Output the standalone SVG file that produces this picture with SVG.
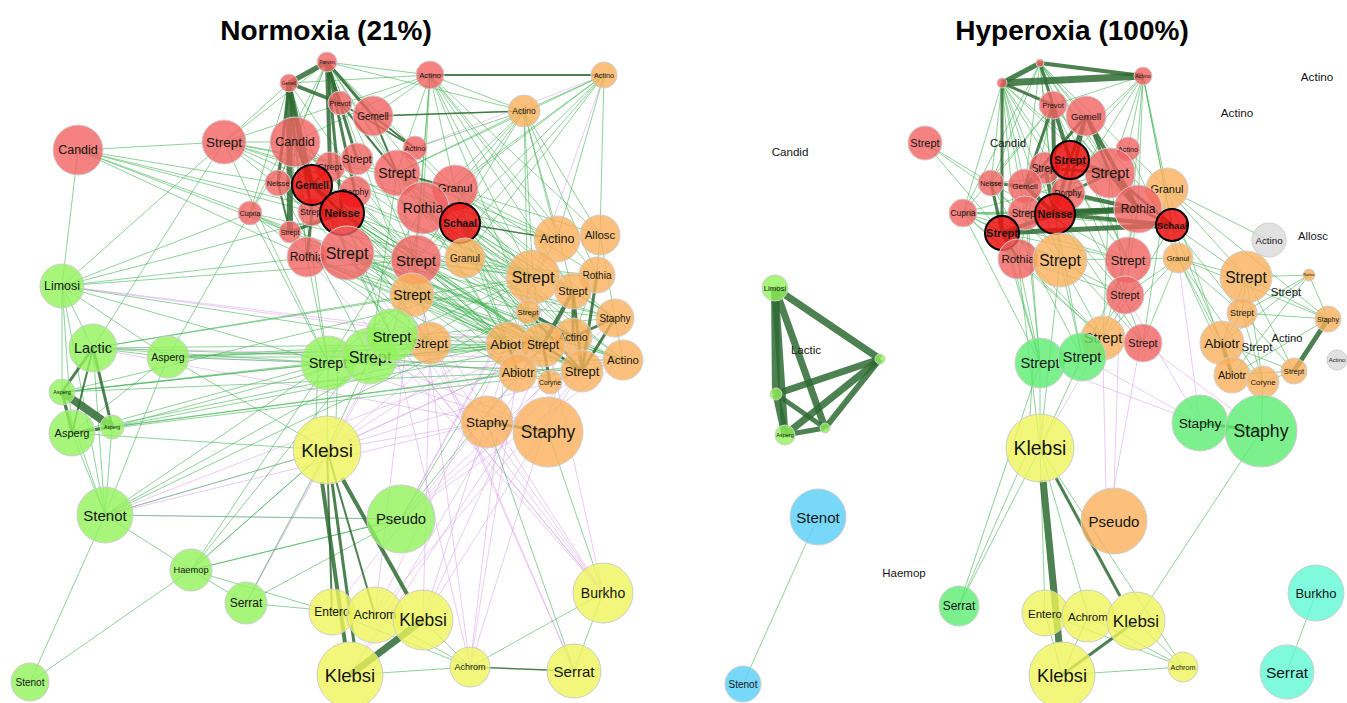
<svg xmlns="http://www.w3.org/2000/svg" width="1347" height="703" viewBox="0 0 1347 703">
<style>
.e{stroke:#46b456;stroke-opacity:.6;stroke-width:1;fill:none}
.p{stroke:#d9a2ea;stroke-opacity:.55;stroke-width:1;fill:none}
.t{stroke:#2e6b33;stroke-opacity:.85;fill:none}
circle{stroke:#cdcdcd;stroke-width:1}
.rd{fill:#F26262;fill-opacity:.8}
.rb{fill:#EE1010;fill-opacity:.85;stroke:#000;stroke-width:2}
.or{fill:#FBB05B;fill-opacity:.8}
.lg{fill:#92F25B;fill-opacity:.8}
.ye{fill:#EFF55B;fill-opacity:.8}
.gr{fill:#5DEC72;fill-opacity:.8}
.bl{fill:#60D1F9;fill-opacity:.85}
.tl{fill:#60F9D3;fill-opacity:.8}
.gy{fill:#D9D9D9;fill-opacity:.8}
text{font-family:"Liberation Sans",Arial,sans-serif;text-anchor:middle;dominant-baseline:central;fill:#151515}
.b{font-weight:bold}
.ti{font-size:28px;font-weight:bold;fill:#000;dominant-baseline:auto}
</style>
<rect width="1347" height="703" fill="#fff"/>
<text class="ti" x="326" y="40">Normoxia (21%)</text>
<text class="ti" x="1072" y="40">Hyperoxia (100%)</text>

<g id="connectors">
<path class="p" d="M327 450L533 277M327 450L573 337M327 450L615 318M327 450L597 275M327 450L623 360M401 519L533 277M401 519L582 371M401 519L615 318M401 519L623 360M401 519L557 239M105 515L327 450M105 515L487 422M105 515L401 519M62 286L543 345M62 286L623 360M168 357L582 371M246 603L412 295M603 593L412 295M603 593L347 253M603 593L430 343M603 593L392 337M603 593L307 257M470 667L533 277M470 667L573 337M470 667L508 344M470 667L416 260M423 620L533 277M423 620L615 318M423 620L430 343M332 612L543 345M375 615L582 371M375 615L508 344M93 348L623 360M93 348L487 422M604 75L415 148M604 75L533 277M574 671L430 343M574 671L412 295M327 450L487 422M370 357L548 432M328 363L548 432M392 337L603 593M350 675L543 345M350 675L573 337M105 515L543 345M246 603L392 337M470 667L392 337M423 620L573 291M375 615L412 295M603 593L533 277"/>
<path class="e" d="M78 150L224 142M78 150L62 286M78 150L250 213M78 150L278 183M78 150L312 212M78 150L290 232M78 150L342 213M78 150L307 257M224 142L62 286M224 142L93 348M224 142L295 142M224 142L327 62M224 142L289 83M224 142L397 173M224 142L423 208M224 142L455 188M224 142L533 277M224 142L557 239M224 142L412 295M224 142L328 363M224 142L416 260M224 142L430 75M62 286L250 213M62 286L342 213M62 286L347 253M62 286L416 260M62 286L168 357M62 286L93 348M62 286L62 392M62 286L72 433M62 286L105 515M62 286L328 363M62 286L430 343M93 348L168 357M93 348L328 363M93 348L370 357M93 348L533 277M93 348L508 344M93 348L105 515M93 348L412 295M168 357L328 363M168 357L370 357M168 357L430 343M168 357L508 344M168 357L543 345M168 357L72 433M168 357L105 515M168 357L250 213M168 357L327 450M62 392L533 277M62 392L573 337M62 392L328 363M62 392L370 357M62 392L518 373M62 392L105 515M72 433L105 515M72 433L582 371M72 433L328 363M72 433L508 344M72 433L327 450M112 427L105 515M112 427L543 345M112 427L518 373M112 427L623 360M112 427L370 357M105 515L191 570M105 515L30 682M105 515L327 450M105 515L328 363M105 515L533 277M105 515L528 312M191 570L246 603M191 570L30 682M191 570L328 363M191 570L412 295M191 570L327 450M191 570L401 519M191 570L332 612M246 603L327 450M246 603L401 519M246 603L375 615"/>
<path class="e" d="M327 62L430 75M327 62L295 142M327 62L397 173M327 62L423 208M327 62L455 188M327 62L460 223M327 62L416 260M327 62L412 295M327 62L524 111M327 62L533 277M327 62L250 213M327 62L278 183M289 83L430 75M289 83L295 142M289 83L278 183M289 83L250 213M289 83L347 253M289 83L307 257M289 83L416 260M430 75L524 111M430 75L373 116M430 75L397 173M430 75L295 142M430 75L423 208M430 75L455 188M430 75L416 260M430 75L557 239M430 75L533 277M430 75L412 295M430 75L528 312M430 75L600 235M430 75L573 291M430 75L597 275M604 75L524 111M604 75L397 173M604 75L455 188M604 75L423 208M604 75L416 260M604 75L600 235M604 75L557 239M604 75L465 258M604 75L412 295M524 111L373 116M524 111L397 173M524 111L423 208M524 111L455 188M524 111L416 260M524 111L412 295M524 111L557 239M524 111L533 277M524 111L600 235M524 111L573 291M524 111L528 312M524 111L597 275M524 111L415 148M295 142L278 183M295 142L250 213M295 142L290 232M295 142L307 257M295 142L347 253M295 142L416 260M295 142L412 295M295 142L328 363M295 142L392 337M295 142L533 277M295 142L508 344M295 142L465 258"/>
<path class="e" d="M397 173L533 277M397 173L557 239M397 173L430 343M397 173L508 344M397 173L543 345M397 173L370 357M397 173L615 318M397 173L623 360M397 173L582 371M423 208L533 277M423 208L508 344M423 208L543 345M423 208L573 337M423 208L582 371M423 208L623 360M423 208L392 337M423 208L328 363M423 208L528 312M455 188L533 277M455 188L557 239M455 188L600 235M455 188L597 275M455 188L573 291M455 188L615 318M455 188L573 337M455 188L518 373M460 223L533 277M460 223L573 291M460 223L573 337M460 223L615 318M460 223L582 371M460 223L508 344M460 223L543 345M460 223L550 382M342 213L533 277M342 213L543 345M342 213L508 344M342 213L518 373M342 213L573 337M342 213L392 337M342 213L430 343M342 213L582 371M342 213L550 382M312 185L533 277M312 185L508 344M312 185L543 345M312 185L582 371M312 185L392 337M312 185L430 343M312 185L573 337M250 213L533 277M250 213L508 344M250 213L328 363M250 213L430 343M250 213L543 345M250 213L623 360M278 183L430 343M278 183L508 344M278 183L543 345M278 183L370 357"/>
<path class="e" d="M347 253L533 277M347 253L543 345M347 253L573 337M347 253L508 344M347 253L518 373M347 253L582 371M347 253L623 360M347 253L615 318M347 253L597 275M416 260L533 277M416 260L508 344M416 260L543 345M416 260L573 337M416 260L582 371M416 260L550 382M416 260L615 318M307 257L543 345M307 257L508 344M307 257L328 363M307 257L518 373M307 257L623 360M307 257L582 371M412 295L543 345M412 295L508 344M412 295L582 371M412 295L623 360M412 295L615 318M412 295L328 363M328 363L543 345M328 363L508 344M328 363L582 371M328 363L623 360M328 363L327 450M318 364L316 420M338 364L336 420M370 357L543 345M370 357L518 373M370 357L327 450M392 337L533 277M392 337L573 337M392 337L508 344M392 337L615 318M533 277L573 291M533 277L597 275M557 239L533 277M600 235L597 275M600 235L615 318M573 291L573 337M573 291L615 318M528 312L543 345M508 344L543 345M573 337L582 371M573 337L623 360M615 318L623 360M582 371L550 382M518 373L550 382M582 371L623 360M533 277L543 345M597 275L573 337M487 422L574 671M548 432L603 593M603 593L470 667M603 593L574 671M470 667L350 675M470 667L332 612M470 667L375 615M470 667L423 620M401 519L105 515M401 519L191 570M401 519L508 344M401 519L543 345M327 450L191 570"/>
<line class="t" x1="327" y1="62" x2="289" y2="83" stroke-width="5"/>
<line class="t" x1="289" y1="83" x2="340" y2="103" stroke-width="4"/>
<line class="t" x1="327" y1="62" x2="340" y2="103" stroke-width="3"/>
<line class="t" x1="327" y1="62" x2="357" y2="159" stroke-width="3"/>
<line class="t" x1="327" y1="62" x2="373" y2="116" stroke-width="3"/>
<line class="t" x1="289" y1="83" x2="290" y2="232" stroke-width="6"/>
<line class="t" x1="289" y1="83" x2="312" y2="185" stroke-width="4"/>
<line class="t" x1="327" y1="62" x2="342" y2="213" stroke-width="3"/>
<line class="t" x1="327" y1="62" x2="330" y2="167" stroke-width="4"/>
<line class="t" x1="289" y1="83" x2="295" y2="142" stroke-width="3"/>
<line class="t" x1="340" y1="103" x2="415" y2="148" stroke-width="2"/>
<line class="t" x1="373" y1="116" x2="415" y2="148" stroke-width="2"/>
<line class="t" x1="289" y1="83" x2="312" y2="212" stroke-width="3"/>
<line class="t" x1="327" y1="62" x2="355" y2="192" stroke-width="3"/>
<line class="t" x1="373" y1="116" x2="524" y2="111" stroke-width="1.5"/>
<line class="t" x1="397" y1="173" x2="455" y2="188" stroke-width="2"/>
<line class="t" x1="430" y1="75" x2="604" y2="75" stroke-width="2"/>
<line class="t" x1="460" y1="223" x2="557" y2="239" stroke-width="1.5"/>
<line class="t" x1="373" y1="116" x2="397" y2="173" stroke-width="2"/>
<line class="t" x1="340" y1="103" x2="397" y2="173" stroke-width="2"/>
<line class="t" x1="312" y1="185" x2="342" y2="213" stroke-width="3"/>
<line class="t" x1="330" y1="167" x2="312" y2="185" stroke-width="3"/>
<line class="t" x1="295" y1="142" x2="312" y2="185" stroke-width="3"/>
<line class="t" x1="289" y1="83" x2="278" y2="183" stroke-width="3"/>
<line class="t" x1="290" y1="232" x2="342" y2="213" stroke-width="3"/>
<line class="t" x1="312" y1="212" x2="307" y2="257" stroke-width="3"/>
<line class="t" x1="278" y1="183" x2="290" y2="232" stroke-width="2"/>
<line class="t" x1="573" y1="291" x2="543" y2="345" stroke-width="4"/>
<line class="t" x1="573" y1="291" x2="582" y2="371" stroke-width="3"/>
<line class="t" x1="573" y1="337" x2="615" y2="318" stroke-width="3"/>
<line class="t" x1="528" y1="312" x2="573" y2="337" stroke-width="3"/>
<line class="t" x1="597" y1="275" x2="582" y2="371" stroke-width="3"/>
<line class="t" x1="615" y1="318" x2="582" y2="371" stroke-width="3"/>
<line class="t" x1="543" y1="345" x2="550" y2="382" stroke-width="3"/>
<line class="t" x1="508" y1="344" x2="518" y2="373" stroke-width="3"/>
<line class="t" x1="573" y1="291" x2="573" y2="337" stroke-width="3"/>
<line class="t" x1="528" y1="312" x2="582" y2="371" stroke-width="2"/>
<line class="t" x1="508" y1="344" x2="543" y2="345" stroke-width="3"/>
<line class="t" x1="543" y1="345" x2="582" y2="371" stroke-width="3"/>
<line class="t" x1="62" y1="392" x2="112" y2="427" stroke-width="8"/>
<line class="t" x1="93" y1="348" x2="62" y2="392" stroke-width="3"/>
<line class="t" x1="93" y1="348" x2="112" y2="427" stroke-width="3"/>
<line class="t" x1="93" y1="348" x2="72" y2="433" stroke-width="2"/>
<line class="t" x1="62" y1="392" x2="72" y2="433" stroke-width="3"/>
<line class="t" x1="72" y1="433" x2="112" y2="427" stroke-width="3"/>
<line class="t" x1="322" y1="482" x2="345" y2="643" stroke-width="4"/>
<line class="t" x1="332" y1="482" x2="354" y2="643" stroke-width="3"/>
<line class="t" x1="327" y1="450" x2="332" y2="612" stroke-width="2"/>
<line class="t" x1="327" y1="450" x2="375" y2="615" stroke-width="2"/>
<line class="t" x1="342" y1="478" x2="407" y2="594" stroke-width="4"/>
<line class="t" x1="423" y1="620" x2="350" y2="675" stroke-width="7"/>
<line class="t" x1="470" y1="667" x2="574" y2="671" stroke-width="1.5"/>
<line class="t" x1="487" y1="422" x2="548" y2="432" stroke-width="3"/>

<path class="p" d="M1082 357L1200 423M1143 343L1261 431M1114 488L1120 300M1114 488L1140 345M1106 490L1103 360M1040 448L1103 338M1178 258L1200 423M1125 295L1200 423M1040 363L1200 423"/>
<path class="e" d="M1002 83L991 183M1002 83L963 213M1002 83L1025 186M1002 83L1025 213M1002 83L1018 259M1002 83L1055 214M1002 83L1110 173M1002 83L1060 260M1002 83L1138 209M1002 83L1128 260M1002 83L1068 193M1040 63L1086 116M1040 63L1110 173M1040 63L1138 209M1040 63L1167 189M1040 63L1172 225M1040 63L1128 260M1040 63L1055 214M1040 63L991 183M1040 63L963 213M1040 63L1025 186M1040 63L1060 260M1143 76L1167 189M1143 76L1172 225M1143 76L1138 209M1143 76L1110 173M1143 76L1178 258M1143 76L1128 260M1143 76L1128 149M1143 76L1053 105M1143 76L1055 214M1143 76L1025 186M1143 76L1002 233M1053 105L1110 173M1053 105L1138 209M1053 105L1128 260M1053 105L1018 259M1053 105L991 183M1053 105L963 213M925 143L991 183M925 143L1002 233M925 143L1025 213"/>
<path class="e" d="M963 213L1055 214M963 213L1025 213M963 213L1110 173M963 213L1138 209M963 213L1172 225M963 213L1060 260M963 213L1128 260M963 213L1125 295M963 213L1040 363M963 213L1103 338M991 183L1110 173M991 183L1138 209M991 183L1060 260M991 183L1128 260M991 183L1040 363M991 183L1082 357M1018 259L1040 363M1002 233L1040 363M1025 213L1040 363M1025 186L1040 363M1055 214L1082 357M1060 260L1082 357M1125 295L1082 357M1128 260L1082 357M1138 209L1103 338M1110 173L1103 338M1172 225L1103 338M1167 189L1143 343M1060 260L1103 338M1018 259L1103 338M1002 233L1103 338M1025 213L1143 343M1055 214L1125 295M1055 214L1143 343M1138 209L1125 295M1110 173L1125 295M1002 233L1128 260M1018 259L1125 295M963 213L1018 259M1068 193L1125 295M1070 160L1143 343M1128 149L1178 258"/>
<path class="e" d="M1040 363L1040 448M1033 364L1030 416M1082 357L1040 448M1060 260L1040 448M1018 259L1040 448M1040 363L959 606M1040 448L959 606M1028 450L959 606M1178 258L1246 277M1178 258L1222 343M1178 258L1242 313M1178 258L1232 375M1178 258L1263 382M1178 258L1328 319M1178 258L1125 295M1178 258L1060 260M1178 258L1143 343M1178 258L1103 338M1167 189L1269 240M1167 189L1246 277M1167 189L1328 319M1172 225L1246 277M1172 225L1242 313M1172 225L1222 343M1167 189L1232 375M1246 277L1242 313M1246 277L1328 319M1246 277L1309 275M1246 277L1222 343M1246 277L1294 371M1309 275L1328 319M1309 275L1242 313M1309 275L1222 343M1309 275L1232 375M1242 313L1222 343M1242 313L1328 319M1222 343L1263 382M1222 343L1294 371M1232 375L1263 382M1263 382L1294 371M1232 375L1294 371M1242 313L1263 382M1328 319L1232 375M1246 277L1263 382M1242 313L1294 371M1261 431L1136 621M1040 448L1045 613M1040 448L1088 616M1040 448L1183 667M1045 613L1183 667M1088 616L1183 667M1062 675L1183 667M1136 621L1183 667M1045 613L1062 675M1088 616L1062 675M1316 593L1287 672M818 517L743 684M1263 382L1261 431"/>
<line class="t" x1="1040" y1="63" x2="1002" y2="83" stroke-width="5"/>
<line class="t" x1="1002" y1="83" x2="1143" y2="76" stroke-width="7"/>
<line class="t" x1="1040" y1="63" x2="1143" y2="76" stroke-width="4"/>
<line class="t" x1="1040" y1="63" x2="1053" y2="105" stroke-width="3"/>
<line class="t" x1="1002" y1="83" x2="1053" y2="105" stroke-width="3"/>
<line class="t" x1="1053" y1="105" x2="1070" y2="160" stroke-width="4"/>
<line class="t" x1="1053" y1="105" x2="1055" y2="214" stroke-width="4"/>
<line class="t" x1="1053" y1="105" x2="1025" y2="186" stroke-width="3"/>
<line class="t" x1="1086" y1="116" x2="1070" y2="160" stroke-width="3"/>
<line class="t" x1="1086" y1="116" x2="1138" y2="209" stroke-width="4"/>
<line class="t" x1="1086" y1="116" x2="1110" y2="173" stroke-width="3"/>
<line class="t" x1="1110" y1="173" x2="1138" y2="209" stroke-width="5"/>
<line class="t" x1="1070" y1="160" x2="1055" y2="214" stroke-width="4"/>
<line class="t" x1="1070" y1="160" x2="1110" y2="173" stroke-width="4"/>
<line class="t" x1="1045" y1="168" x2="1055" y2="214" stroke-width="4"/>
<line class="t" x1="1055" y1="214" x2="1138" y2="209" stroke-width="6"/>
<line class="t" x1="1055" y1="214" x2="1172" y2="225" stroke-width="4"/>
<line class="t" x1="1002" y1="233" x2="1172" y2="225" stroke-width="5"/>
<line class="t" x1="1002" y1="233" x2="1055" y2="214" stroke-width="4"/>
<line class="t" x1="1025" y1="186" x2="1055" y2="214" stroke-width="4"/>
<line class="t" x1="1068" y1="193" x2="1138" y2="209" stroke-width="4"/>
<line class="t" x1="1025" y1="213" x2="1138" y2="209" stroke-width="5"/>
<line class="t" x1="991" y1="183" x2="1002" y2="233" stroke-width="3"/>
<line class="t" x1="991" y1="183" x2="1025" y2="186" stroke-width="3"/>
<line class="t" x1="1110" y1="173" x2="1172" y2="225" stroke-width="3"/>
<line class="t" x1="1025" y1="186" x2="1070" y2="160" stroke-width="3"/>
<line class="t" x1="1068" y1="193" x2="1110" y2="173" stroke-width="3"/>
<line class="t" x1="1002" y1="233" x2="1018" y2="259" stroke-width="3"/>
<line class="t" x1="1002" y1="83" x2="1002" y2="233" stroke-width="3"/>
<line class="t" x1="1086" y1="116" x2="1025" y2="186" stroke-width="3"/>
<line class="t" x1="1086" y1="116" x2="1068" y2="193" stroke-width="3"/>
<line class="t" x1="1138" y1="209" x2="1172" y2="225" stroke-width="3"/>
<line class="t" x1="1045" y1="168" x2="1110" y2="173" stroke-width="3"/>
<line class="t" x1="775" y1="288" x2="880" y2="359" stroke-width="7"/>
<line class="t" x1="775" y1="288" x2="776" y2="394" stroke-width="8"/>
<line class="t" x1="775" y1="288" x2="785" y2="435" stroke-width="7"/>
<line class="t" x1="775" y1="288" x2="825" y2="428" stroke-width="7"/>
<line class="t" x1="880" y1="359" x2="776" y2="394" stroke-width="7"/>
<line class="t" x1="880" y1="359" x2="785" y2="435" stroke-width="7"/>
<line class="t" x1="880" y1="359" x2="825" y2="428" stroke-width="6"/>
<line class="t" x1="776" y1="394" x2="785" y2="435" stroke-width="7"/>
<line class="t" x1="776" y1="394" x2="825" y2="428" stroke-width="5"/>
<line class="t" x1="785" y1="435" x2="825" y2="428" stroke-width="5"/>
<line class="t" x1="1043" y1="480" x2="1059" y2="643" stroke-width="7"/>
<line class="t" x1="1056" y1="478" x2="1120" y2="596" stroke-width="3"/>
<line class="t" x1="1136" y1="621" x2="1062" y2="675" stroke-width="3"/>
<line class="t" x1="1328" y1="319" x2="1294" y2="371" stroke-width="5"/>
<line class="t" x1="1222" y1="343" x2="1232" y2="375" stroke-width="4"/>
<line class="t" x1="1200" y1="423" x2="1261" y2="431" stroke-width="3"/>
</g>

<g id="L-Candid-1"><circle class="rd" cx="78" cy="150" r="25"/><text x="78" y="150" font-size="12.5">Candid</text></g>
<g id="L-Strept-1"><circle class="rd" cx="224" cy="142" r="22"/><text x="224" y="142" font-size="13.5">Strept</text></g>
<g id="L-Parvim"><circle class="rd" cx="327" cy="62" r="10"/><text x="327" y="62" font-size="5">Parvim</text></g>
<g id="L-Gemell-1"><circle class="rd" cx="289" cy="83" r="9"/><text x="289" y="83" font-size="4.5">Gemell</text></g>
<g id="L-Actino-1"><circle class="rd" cx="430" cy="75" r="14"/><text x="430" y="75" font-size="7.8">Actino</text></g>
<g id="L-Actino-2"><circle class="or" cx="604" cy="75" r="13"/><text x="604" y="75" font-size="7.2">Actino</text></g>
<g id="L-Actino-3"><circle class="or" cx="524" cy="111" r="16"/><text x="524" y="111" font-size="8.4">Actino</text></g>
<g id="L-Prevot"><circle class="rd" cx="340" cy="103" r="12"/><text x="340" y="103" font-size="7.3">Prevot</text></g>
<g id="L-Gemell-2"><circle class="rd" cx="373" cy="116" r="20"/><text x="373" y="116" font-size="10">Gemell</text></g>
<g id="L-Actino-4"><circle class="rd" cx="415" cy="148" r="12"/><text x="415" y="148" font-size="7.5">Actino</text></g>
<g id="L-Candid-2"><circle class="rd" cx="295" cy="142" r="25"/><text x="295" y="142" font-size="12.5">Candid</text></g>
<g id="L-Strept-2"><circle class="rd" cx="330" cy="167" r="15"/><text x="330" y="167" font-size="9">Strept</text></g>
<g id="L-Strept-3"><circle class="rd" cx="357" cy="159" r="16"/><text x="357" y="159" font-size="11">Strept</text></g>
<g id="L-Strept-4"><circle class="rd" cx="397" cy="173" r="23"/><text x="397" y="173" font-size="14">Strept</text></g>
<g id="L-Neisse-1"><circle class="rd" cx="278" cy="183" r="13"/><text x="278" y="183" font-size="7.4">Neisse</text></g>
<g id="L-Porphy"><circle class="rd" cx="355" cy="192" r="16"/><text x="355" y="192" font-size="8.5">Porphy</text></g>
<g id="L-Granul-1"><circle class="rd" cx="455" cy="188" r="23"/><text x="455" y="188" font-size="11.5">Granul</text></g>
<g id="L-Rothia-1"><circle class="rd" cx="423" cy="208" r="26"/><text x="423" y="208" font-size="14">Rothia</text></g>
<g id="L-Cupria"><circle class="rd" cx="250" cy="213" r="12"/><text x="250" y="213" font-size="7">Cupria</text></g>
<g id="L-Strept-5"><circle class="rd" cx="312" cy="212" r="14"/><text x="312" y="212" font-size="9">Strept</text></g>
<g id="L-Strept-6"><circle class="rd" cx="290" cy="232" r="11"/><text x="290" y="232" font-size="7">Strept</text></g>
<g id="L-Gemell-3"><circle class="rb" cx="312" cy="185" r="20"/><text class="b" x="312" y="185" font-size="10">Gemell</text></g>
<g id="L-Neisse-2"><circle class="rb" cx="342" cy="213" r="22"/><text class="b" x="342" y="213" font-size="11">Neisse</text></g>
<g id="L-Schaal"><circle class="rb" cx="460" cy="223" r="20"/><text class="b" x="460" y="223" font-size="10.5">Schaal</text></g>
<g id="L-Rothia-2"><circle class="rd" cx="307" cy="257" r="20"/><text x="307" y="257" font-size="12">Rothia</text></g>
<g id="L-Strept-7"><circle class="rd" cx="347" cy="253" r="27"/><text x="347" y="253" font-size="16">Strept</text></g>
<g id="L-Strept-8"><circle class="rd" cx="416" cy="260" r="25"/><text x="416" y="260" font-size="15">Strept</text></g>
<g id="L-Granul-2"><circle class="or" cx="465" cy="258" r="20"/><text x="465" y="258" font-size="10">Granul</text></g>
<g id="L-Strept-9"><circle class="or" cx="412" cy="295" r="22"/><text x="412" y="295" font-size="14">Strept</text></g>
<g id="L-Actino-5"><circle class="or" cx="557" cy="239" r="23"/><text x="557" y="239" font-size="12.5">Actino</text></g>
<g id="L-Allosc"><circle class="or" cx="600" cy="235" r="20"/><text x="600" y="235" font-size="11.5">Allosc</text></g>
<g id="L-Strept-10"><circle class="or" cx="533" cy="277" r="27"/><text x="533" y="277" font-size="16">Strept</text></g>
<g id="L-Rothia-3"><circle class="or" cx="597" cy="275" r="18"/><text x="597" y="275" font-size="10">Rothia</text></g>
<g id="L-Strept-11"><circle class="or" cx="573" cy="291" r="18"/><text x="573" y="291" font-size="11">Strept</text></g>
<g id="L-Strept-12"><circle class="or" cx="528" cy="312" r="12"/><text x="528" y="312" font-size="7.8">Strept</text></g>
<g id="L-Staphy-1"><circle class="or" cx="615" cy="318" r="19"/><text x="615" y="318" font-size="10">Staphy</text></g>
<g id="L-Abiotr-1"><circle class="or" cx="508" cy="344" r="22"/><text x="508" y="344" font-size="13.5">Abiotr</text></g>
<g id="L-Actino-6"><circle class="or" cx="573" cy="337" r="19"/><text x="573" y="337" font-size="10.5">Actino</text></g>
<g id="L-Strept-13"><circle class="or" cx="543" cy="345" r="22"/><text x="543" y="345" font-size="12">Strept</text></g>
<g id="L-Actino-7"><circle class="or" cx="623" cy="360" r="20"/><text x="623" y="360" font-size="11.5">Actino</text></g>
<g id="L-Abiotr-2"><circle class="or" cx="518" cy="373" r="19"/><text x="518" y="373" font-size="12.5">Abiotr</text></g>
<g id="L-Strept-14"><circle class="or" cx="582" cy="371" r="21"/><text x="582" y="371" font-size="13">Strept</text></g>
<g id="L-Coryne"><circle class="or" cx="550" cy="382" r="12"/><text x="550" y="382" font-size="6.8">Coryne</text></g>
<g id="L-Strept-15"><circle class="or" cx="430" cy="343" r="21"/><text x="430" y="343" font-size="13.5">Strept</text></g>
<g id="L-Strept-16"><circle class="lg" cx="328" cy="363" r="27"/><text x="328" y="363" font-size="14.5">Strept</text></g>
<g id="L-Strept-17"><circle class="lg" cx="370" cy="356" r="28"/><text x="370" y="357" font-size="16">Strept</text></g>
<g id="L-Strept-18"><circle class="lg" cx="392" cy="335" r="26"/><text x="392" y="337" font-size="14.5">Strept</text></g>
<g id="L-Limosi"><circle class="lg" cx="62" cy="286" r="22"/><text x="62" y="286" font-size="12.4">Limosi</text></g>
<g id="L-Lactic"><circle class="lg" cx="93" cy="348" r="24"/><text x="93" y="348" font-size="14.5">Lactic</text></g>
<g id="L-Asperg-1"><circle class="lg" cx="168" cy="357" r="21"/><text x="168" y="357" font-size="10.5">Asperg</text></g>
<g id="L-Asperg-2"><circle class="lg" cx="62" cy="392" r="13"/><text x="62" y="392" font-size="5.5">Asperg</text></g>
<g id="L-Asperg-3"><circle class="lg" cx="72" cy="433" r="23"/><text x="72" y="433" font-size="11">Asperg</text></g>
<g id="L-Asperg-4"><circle class="lg" cx="112" cy="427" r="12"/><text x="112" y="427" font-size="5">Asperg</text></g>
<g id="L-Stenot-1"><circle class="lg" cx="105" cy="515" r="28"/><text x="105" y="515" font-size="15">Stenot</text></g>
<g id="L-Haemop"><circle class="lg" cx="191" cy="570" r="21"/><text x="191" y="570" font-size="9.3">Haemop</text></g>
<g id="L-Serrat-1"><circle class="lg" cx="246" cy="603" r="21"/><text x="246" y="603" font-size="12">Serrat</text></g>
<g id="L-Stenot-2"><circle class="lg" cx="30" cy="682" r="19"/><text x="30" y="682" font-size="10">Stenot</text></g>
<g id="L-Klebsi-1"><circle class="ye" cx="327" cy="450" r="34"/><text x="327" y="450" font-size="19">Klebsi</text></g>
<g id="L-Staphy-2"><circle class="or" cx="487" cy="422" r="26"/><text x="487" y="422" font-size="13.5">Staphy</text></g>
<g id="L-Staphy-3"><circle class="or" cx="548" cy="432" r="35"/><text x="548" y="432" font-size="17.5">Staphy</text></g>
<g id="L-Pseudo"><circle class="lg" cx="401" cy="519" r="34"/><text x="401" y="519" font-size="14.8">Pseudo</text></g>
<g id="L-Burkho"><circle class="ye" cx="603" cy="593" r="30"/><text x="603" y="593" font-size="14">Burkho</text></g>
<g id="L-Entero"><circle class="ye" cx="332" cy="612" r="23"/><text x="332" y="612" font-size="12">Entero</text></g>
<g id="L-Achrom-1"><circle class="ye" cx="375" cy="615" r="28"/><text x="375" y="615" font-size="12.5">Achrom</text></g>
<g id="L-Klebsi-2"><circle class="ye" cx="423" cy="620" r="30"/><text x="423" y="620" font-size="17.5">Klebsi</text></g>
<g id="L-Klebsi-3"><circle class="ye" cx="350" cy="675" r="33"/><text x="350" y="675" font-size="18.5">Klebsi</text></g>
<g id="L-Achrom-2"><circle class="ye" cx="470" cy="667" r="20"/><text x="470" y="667" font-size="9">Achrom</text></g>
<g id="L-Serrat-2"><circle class="ye" cx="574" cy="671" r="27"/><text x="574" y="671" font-size="15">Serrat</text></g>

<g id="R-node-1"><circle class="rd" cx="1040" cy="63" r="4"/></g>
<g id="R-node-2"><circle class="rd" cx="1002" cy="83" r="5"/></g>
<g id="R-Actino-1"><circle class="rd" cx="1143" cy="76" r="9"/><text x="1143" y="76" font-size="5.5">Actino</text></g>
<g id="R-Prevot"><circle class="rd" cx="1053" cy="105" r="14"/><text x="1053" y="105" font-size="7.5">Prevot</text></g>
<g id="R-Gemell-1"><circle class="rd" cx="1086" cy="116" r="20"/><text x="1086" y="116" font-size="9.5">Gemell</text></g>
<g id="R-Actino-2"><circle class="rd" cx="1128" cy="149" r="12"/><text x="1128" y="149" font-size="7.2">Actino</text></g>
<g id="R-Strept-1"><circle class="rd" cx="1045" cy="168" r="16"/><text x="1045" y="168" font-size="10">Strept</text></g>
<g id="R-Strept-0"><circle class="rd" cx="925" cy="143" r="17"/><text x="925" y="143" font-size="11">Strept</text></g>
<g id="R-Strept-3"><circle class="rd" cx="1110" cy="173" r="25"/><text x="1110" y="173" font-size="14.5">Strept</text></g>
<g id="R-Neisse-1"><circle class="rd" cx="991" cy="183" r="13"/><text x="991" y="183" font-size="7">Neisse</text></g>
<g id="R-Gemell-2"><circle class="rd" cx="1025" cy="186" r="17"/><text x="1025" y="186" font-size="8">Gemell</text></g>
<g id="R-Porphy"><circle class="rd" cx="1068" cy="193" r="17"/><text x="1068" y="193" font-size="8.5">Porphy</text></g>
<g id="R-Granul-1"><circle class="or" cx="1167" cy="189" r="21"/><text x="1167" y="189" font-size="11">Granul</text></g>
<g id="R-Rothia-1"><circle class="rd" cx="1138" cy="209" r="24"/><text x="1138" y="209" font-size="12">Rothia</text></g>
<g id="R-Cupria"><circle class="rd" cx="963" cy="213" r="14"/><text x="963" y="213" font-size="8.5">Cupria</text></g>
<g id="R-Strept-4"><circle class="rd" cx="1025" cy="213" r="17"/><text x="1025" y="213" font-size="10">Strept</text></g>
<g id="R-Strept-2"><circle class="rb" cx="1070" cy="160" r="19"/><text class="b" x="1070" y="160" font-size="11">Strept</text></g>
<g id="R-Neisse-2"><circle class="rb" cx="1055" cy="214" r="20"/><text class="b" x="1055" y="214" font-size="10.8">Neisse</text></g>
<g id="R-Schaal"><circle class="rb" cx="1172" cy="225" r="16"/><text class="b" x="1172" y="225" font-size="9.5">Schaal</text></g>
<g id="R-Strept-5"><circle class="rb" cx="1002" cy="233" r="17"/><text class="b" x="1002" y="233" font-size="11">Strept</text></g>
<g id="R-Rothia-2"><circle class="rd" cx="1018" cy="259" r="20"/><text x="1018" y="259" font-size="11.5">Rothia</text></g>
<g id="R-Strept-6"><circle class="or" cx="1060" cy="260" r="27"/><text x="1060" y="260" font-size="15.6">Strept</text></g>
<g id="R-Strept-7"><circle class="rd" cx="1128" cy="260" r="23"/><text x="1128" y="260" font-size="13">Strept</text></g>
<g id="R-Granul-2"><circle class="or" cx="1178" cy="258" r="15"/><text x="1178" y="258" font-size="7.5">Granul</text></g>
<g id="R-Strept-8"><circle class="rd" cx="1125" cy="295" r="19"/><text x="1125" y="295" font-size="11">Strept</text></g>
<g id="R-Actino-3"><circle class="gy" cx="1269" cy="240" r="17"/><text x="1269" y="240" font-size="9.8">Actino</text></g>
<g id="R-Strept-9"><circle class="or" cx="1246" cy="277" r="26"/><text x="1246" y="277" font-size="15.6">Strept</text></g>
<g id="R-Rothia-3"><circle class="or" cx="1309" cy="275" r="6"/><text x="1309" y="275" font-size="3.8">Rothia</text></g>
<g id="R-Strept-10"><circle class="or" cx="1242" cy="313" r="15"/><text x="1242" y="313" font-size="9">Strept</text></g>
<g id="R-Staphy-1"><circle class="or" cx="1328" cy="319" r="13"/><text x="1328" y="319" font-size="7">Staphy</text></g>
<g id="R-Strept-11"><circle class="or" cx="1103" cy="338" r="22"/><text x="1103" y="338" font-size="14.4">Strept</text></g>
<g id="R-Strept-12"><circle class="rd" cx="1143" cy="343" r="19"/><text x="1143" y="343" font-size="11">Strept</text></g>
<g id="R-Abiotr-1"><circle class="or" cx="1222" cy="343" r="22"/><text x="1222" y="343" font-size="13.6">Abiotr</text></g>
<g id="R-Actino-4"><circle class="gy" cx="1337" cy="360" r="10"/><text x="1337" y="360" font-size="6">Actino</text></g>
<g id="R-Strept-13"><circle class="gr" cx="1040" cy="363" r="25"/><text x="1040" y="363" font-size="14.6">Strept</text></g>
<g id="R-Strept-14"><circle class="gr" cx="1082" cy="357" r="24"/><text x="1082" y="357" font-size="14.4">Strept</text></g>
<g id="R-Abiotr-2"><circle class="or" cx="1232" cy="375" r="18"/><text x="1232" y="375" font-size="10.8">Abiotr</text></g>
<g id="R-Coryne"><circle class="or" cx="1263" cy="382" r="16"/><text x="1263" y="382" font-size="7.8">Coryne</text></g>
<g id="R-Strept-15"><circle class="or" cx="1294" cy="371" r="13"/><text x="1294" y="371" font-size="7.6">Strept</text></g>
<g id="R-Staphy-2"><circle class="gr" cx="1200" cy="423" r="28"/><text x="1200" y="423" font-size="13.7">Staphy</text></g>
<g id="R-Staphy-3"><circle class="gr" cx="1261" cy="431" r="36"/><text x="1261" y="431" font-size="17.7">Staphy</text></g>
<g id="R-Klebsi-1"><circle class="ye" cx="1040" cy="448" r="34"/><text x="1040" y="448" font-size="19.4">Klebsi</text></g>
<g id="R-Pseudo"><circle class="or" cx="1114" cy="521" r="33"/><text x="1114" y="521" font-size="15">Pseudo</text></g>
<g id="R-Entero"><circle class="ye" cx="1045" cy="613" r="23"/><text x="1045" y="613" font-size="11.6">Entero</text></g>
<g id="R-Achrom-1"><circle class="ye" cx="1088" cy="616" r="26"/><text x="1088" y="616" font-size="11.6">Achrom</text></g>
<g id="R-Klebsi-2"><circle class="ye" cx="1136" cy="621" r="29"/><text x="1136" y="621" font-size="17">Klebsi</text></g>
<g id="R-Klebsi-3"><circle class="ye" cx="1062" cy="675" r="33"/><text x="1062" y="675" font-size="18.4">Klebsi</text></g>
<g id="R-Achrom-2"><circle class="ye" cx="1183" cy="667" r="15"/><text x="1183" y="667" font-size="7.2">Achrom</text></g>
<g id="R-Burkho"><circle class="tl" cx="1316" cy="593" r="28"/><text x="1316" y="593" font-size="13">Burkho</text></g>
<g id="R-Serrat-2"><circle class="tl" cx="1287" cy="672" r="27"/><text x="1287" y="672" font-size="15.5">Serrat</text></g>
<g id="R-Serrat-1"><circle class="gr" cx="959" cy="606" r="20"/><text x="959" y="606" font-size="12">Serrat</text></g>
<g id="R-Stenot-1"><circle class="bl" cx="818" cy="517" r="28"/><text x="818" y="517" font-size="15">Stenot</text></g>
<g id="R-Stenot-2"><circle class="bl" cx="743" cy="684" r="18"/><text x="743" y="684" font-size="10">Stenot</text></g>
<g id="R-Limosi"><circle class="lg" cx="775" cy="288" r="13"/><text x="775" y="288" font-size="7.8">Limosi</text></g>
<g id="R-node-3"><circle class="lg" cx="880" cy="359" r="5"/></g>
<g id="R-node-4"><circle class="lg" cx="776" cy="394" r="6"/></g>
<g id="R-Asperg"><circle class="lg" cx="785" cy="435" r="10"/><text x="785" y="435" font-size="5.5">Asperg</text></g>
<g id="R-node-5"><circle class="lg" cx="825" cy="428" r="5"/></g>

<g id="R-labels">
<text x="790" y="151" font-size="11.6">Candid</text>
<text x="806" y="350" font-size="11.5">Lactic</text>
<text x="904" y="573" font-size="11.5">Haemop</text>
<text x="1317" y="76" font-size="11.7">Actino</text>
<text x="1237" y="112" font-size="11.7">Actino</text>
<text x="1313" y="236" font-size="11.2">Allosc</text>
<text x="1286" y="292" font-size="11.4">Strept</text>
<text x="1287" y="338" font-size="11.2">Actino</text>
<text x="1257" y="346" font-size="11.6">Strept</text>
<text x="1008" y="143" font-size="11.4">Candid</text>
</g>
</svg>
